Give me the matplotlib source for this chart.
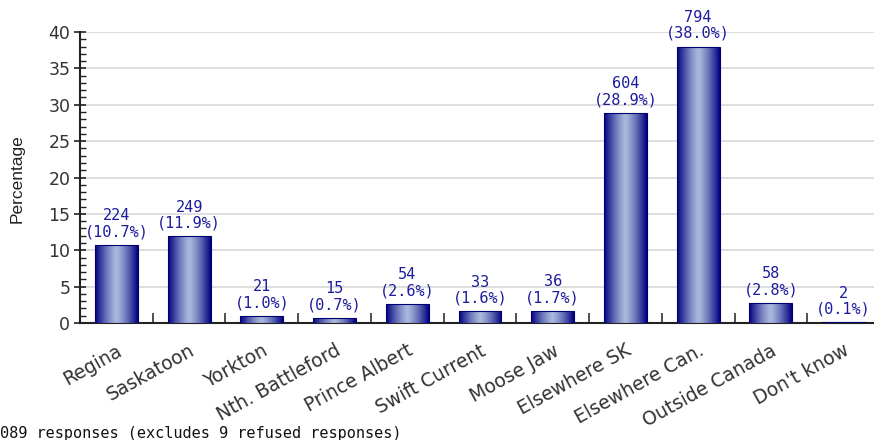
import numpy as np
import matplotlib
matplotlib.use("Agg")
import matplotlib.pyplot as plt

# data
places = ["Regina", "Saskatoon", "Yorkton", "Nth. Battleford", "Prince Albert",
          "Swift Current", "Moose Jaw", "Elsewhere SK", "Elsewhere Can.",
          "Outside Canada", "Don't know"]
counts = [224, 249, 21, 15, 54, 33, 36, 604, 794, 58, 2]
percents = [10.7, 11.9, 1.0, 0.7, 2.6, 1.6, 1.7, 28.9, 38.0, 2.8, 0.1]
footnote = "089 responses (excludes 9 refused responses)"

fig = plt.figure(figsize=(8.74, 4.4), dpi=100)
# axes from x=80 to ~880 px, y=0 at 323 px, y=40 at 32 px
ax = fig.add_axes([80 / 874, (440 - 323) / 440, 800 / 874, 291 / 440])

x = np.arange(len(places))
bars = ax.bar(x, percents, width=0.59, color="#000080", edgecolor="#000070",
              linewidth=0.8, zorder=3)

# horizontal gradient: dark navy edges, pale centre
t = np.linspace(-1, 1, 256)
w = 1 - np.abs(t) ** 1.3
dark = np.array([0.0, 0.0, 0.50])
light = np.array([0.66, 0.72, 0.86])
grad = dark[None, :] * (1 - w[:, None]) + light[None, :] * w[:, None]
grad = grad[None, :, :]
for b in bars:
    x0, y0 = b.get_x(), b.get_y()
    im = ax.imshow(grad, extent=[x0, x0 + b.get_width(), y0, y0 + b.get_height()],
                   aspect="auto", zorder=3.5, interpolation="bilinear")
    im.set_clip_path(b)
    b.set_facecolor("none")
    b.set_zorder(4)

for xi, n, p in zip(x, counts, percents):
    ax.annotate(f"{n}\n({p:.1f}%)", (xi, p), xytext=(0, 4),
                textcoords="offset points", ha="center", va="bottom",
                family="DejaVu Sans Mono", fontsize=11, color="#1c1c9c",
                linespacing=1.1, zorder=5)

ax.set_xlim(-0.5, len(places) - 0.5)
ax.set_ylim(0, 40)
ax.set_yticks(range(0, 41, 5))
ax.set_yticks(range(0, 41, 1), minor=True)
ax.yaxis.grid(True, color="#d8d8d8", linewidth=1.2, zorder=0)
ax.set_axisbelow(True)

ax.set_xticks(x)
ax.set_xticklabels(places, rotation=29, ha="right", rotation_mode="anchor",
                   fontsize=13.5, color="#333333")
ax.tick_params(axis="x", length=0, pad=13)
ax.set_xticks(x[:-1] + 0.5, minor=True)
ax.tick_params(axis="x", which="minor", direction="in", length=7, width=1.2,
               color="#333333")
ax.tick_params(axis="y", which="major", direction="inout", length=8, width=1.2,
               labelsize=12.5, labelcolor="#333333", color="#222222", pad=3)
ax.tick_params(axis="y", which="minor", direction="in", length=4, width=1,
               color="#222222")

for s in ["top", "right"]:
    ax.spines[s].set_visible(False)
ax.spines["left"].set_linewidth(1.5)
ax.spines["bottom"].set_linewidth(1.5)
ax.spines["left"].set_color("#222222")
ax.spines["bottom"].set_color("#222222")

fig.text(17.5 / 874, 1 - 179 / 440, "Percentage", rotation=90, ha="center",
         va="center", family="Liberation Sans", fontsize=12.5, color="#222222")
fig.text(0, 1 - 433 / 440, footnote, ha="left", va="center",
         family="DejaVu Sans Mono", fontsize=11, color="#111111")

fig.savefig("out.png", dpi=100)
